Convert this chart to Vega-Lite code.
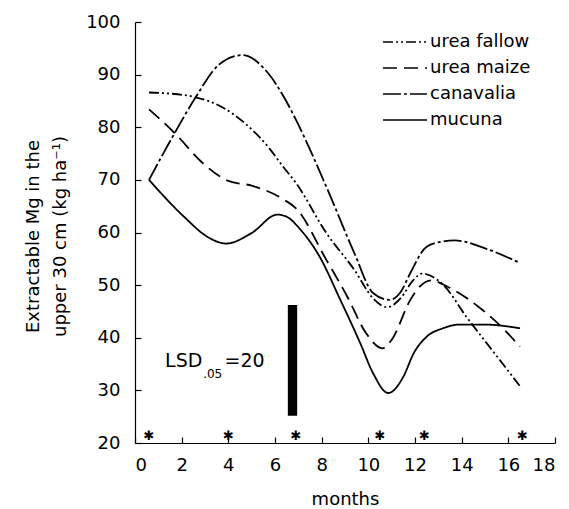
{
  "$schema": "https://vega.github.io/schema/vega-lite/v6.json",
  "width": 420,
  "height": 421,
  "autosize": "none",
  "padding": {"left": 135, "top": 22, "right": 14, "bottom": 66},
  "background": "white",
  "config": {
    "view": {"stroke": null},
    "font": "DejaVu Sans",
    "axis": {"grid": false, "domainColor": "black", "tickColor": "black", "labelColor": "black", "titleColor": "black", "labelFont": "DejaVu Sans", "titleFont": "DejaVu Sans", "titleFontWeight": "normal", "labelFontSize": 18, "titleFontSize": 18, "domainWidth": 1.2, "tickWidth": 1.2}
  },
  "datasets": {
    "curves": [
      {"series": "urea fallow", "month": 0.6, "mg": 86.6},
      {"series": "urea fallow", "month": 1.5, "mg": 86.4},
      {"series": "urea fallow", "month": 2.6, "mg": 85.7},
      {"series": "urea fallow", "month": 3.7, "mg": 83.9},
      {"series": "urea fallow", "month": 4.7, "mg": 80.8},
      {"series": "urea fallow", "month": 5.7, "mg": 76.3},
      {"series": "urea fallow", "month": 6.4, "mg": 72.2},
      {"series": "urea fallow", "month": 6.9, "mg": 69.4},
      {"series": "urea fallow", "month": 8.2, "mg": 59.9},
      {"series": "urea fallow", "month": 9.4, "mg": 52.9},
      {"series": "urea fallow", "month": 10.2, "mg": 47.5},
      {"series": "urea fallow", "month": 10.8, "mg": 45.8},
      {"series": "urea fallow", "month": 11.4, "mg": 47.6},
      {"series": "urea fallow", "month": 11.9, "mg": 50.8},
      {"series": "urea fallow", "month": 12.3, "mg": 52.2},
      {"series": "urea fallow", "month": 13.2, "mg": 50.1},
      {"series": "urea fallow", "month": 14.2, "mg": 44.0},
      {"series": "urea fallow", "month": 15.4, "mg": 37.1},
      {"series": "urea fallow", "month": 16.5, "mg": 30.8},
      {"series": "urea maize", "month": 0.6, "mg": 83.4},
      {"series": "urea maize", "month": 1.7, "mg": 78.9},
      {"series": "urea maize", "month": 2.9, "mg": 73.2},
      {"series": "urea maize", "month": 4.0, "mg": 69.8},
      {"series": "urea maize", "month": 5.0, "mg": 68.9},
      {"series": "urea maize", "month": 6.4, "mg": 66.2},
      {"series": "urea maize", "month": 6.9, "mg": 64.6},
      {"series": "urea maize", "month": 8.2, "mg": 54.8},
      {"series": "urea maize", "month": 9.1, "mg": 47.8},
      {"series": "urea maize", "month": 9.9, "mg": 40.9},
      {"series": "urea maize", "month": 10.6, "mg": 38.0},
      {"series": "urea maize", "month": 11.0, "mg": 39.6},
      {"series": "urea maize", "month": 11.8, "mg": 47.2},
      {"series": "urea maize", "month": 12.2, "mg": 49.7},
      {"series": "urea maize", "month": 12.7, "mg": 50.9},
      {"series": "urea maize", "month": 13.4, "mg": 49.7},
      {"series": "urea maize", "month": 14.8, "mg": 45.6},
      {"series": "urea maize", "month": 15.7, "mg": 42.1},
      {"series": "urea maize", "month": 16.5, "mg": 38.3},
      {"series": "canavalia", "month": 0.6, "mg": 70.0},
      {"series": "canavalia", "month": 1.7, "mg": 78.9},
      {"series": "canavalia", "month": 2.6, "mg": 85.7},
      {"series": "canavalia", "month": 3.6, "mg": 91.9},
      {"series": "canavalia", "month": 4.6, "mg": 93.7},
      {"series": "canavalia", "month": 5.7, "mg": 90.3},
      {"series": "canavalia", "month": 6.4, "mg": 85.6},
      {"series": "canavalia", "month": 6.9, "mg": 81.4},
      {"series": "canavalia", "month": 8.2, "mg": 68.7},
      {"series": "canavalia", "month": 9.4, "mg": 56.1},
      {"series": "canavalia", "month": 10.2, "mg": 48.5},
      {"series": "canavalia", "month": 10.9, "mg": 47.2},
      {"series": "canavalia", "month": 11.4, "mg": 48.8},
      {"series": "canavalia", "month": 11.8, "mg": 52.3},
      {"series": "canavalia", "month": 12.5, "mg": 57.3},
      {"series": "canavalia", "month": 13.2, "mg": 58.3},
      {"series": "canavalia", "month": 13.7, "mg": 58.5},
      {"series": "canavalia", "month": 15.0, "mg": 57.0},
      {"series": "canavalia", "month": 16.5, "mg": 54.2},
      {"series": "mucuna", "month": 0.6, "mg": 70.0},
      {"series": "mucuna", "month": 2.1, "mg": 63.0},
      {"series": "mucuna", "month": 3.1, "mg": 59.2},
      {"series": "mucuna", "month": 3.9, "mg": 57.9},
      {"series": "mucuna", "month": 5.0, "mg": 59.9},
      {"series": "mucuna", "month": 6.1, "mg": 63.4},
      {"series": "mucuna", "month": 6.5, "mg": 63.0},
      {"series": "mucuna", "month": 7.1, "mg": 60.5},
      {"series": "mucuna", "month": 7.9, "mg": 55.5},
      {"series": "mucuna", "month": 8.8, "mg": 47.2},
      {"series": "mucuna", "month": 9.65, "mg": 39.0},
      {"series": "mucuna", "month": 10.2, "mg": 33.3},
      {"series": "mucuna", "month": 10.85, "mg": 29.5},
      {"series": "mucuna", "month": 11.5, "mg": 32.6},
      {"series": "mucuna", "month": 11.95, "mg": 37.1},
      {"series": "mucuna", "month": 12.5, "mg": 40.2},
      {"series": "mucuna", "month": 13.2, "mg": 41.8},
      {"series": "mucuna", "month": 13.9, "mg": 42.5},
      {"series": "mucuna", "month": 15.0, "mg": 42.5},
      {"series": "mucuna", "month": 16.5, "mg": 41.8}
    ],
    "stars": [
      {"month": 0.6}, {"month": 4.0}, {"month": 6.9}, {"month": 10.5}, {"month": 12.4}, {"month": 16.6}
    ],
    "one": [{}]
  },
  "layer": [
    {
      "data": {"name": "curves"},
      "mark": {"type": "line", "interpolate": "monotone", "strokeWidth": 1.8, "color": "black", "clip": true},
      "encoding": {
        "x": {"field": "month", "type": "quantitative", "scale": {"domain": [0, 18], "nice": false},
          "axis": {"values": [0, 2, 4, 6, 8, 10, 12, 14, 16, 18], "tickSize": -6, "labelPadding": 19, "title": "months", "titleY": 61, "titleBaseline": "alphabetic"}},
        "y": {"field": "mg", "type": "quantitative", "scale": {"domain": [20, 100], "nice": false, "zero": false},
          "axis": {"values": [20, 30, 40, 50, 60, 70, 80, 90, 100], "tickSize": -6, "labelPadding": 21,
            "title": ["Extractable Mg in the", "upper 30 cm (kg ha\u207b\u00b9)"], "titleLineHeight": 27, "titleX": -102, "titleY": 214, "titleAlign": "center", "titleBaseline": "middle"}},
        "strokeDash": {"field": "series", "type": "nominal",
          "scale": {"domain": ["urea fallow", "urea maize", "canavalia", "mucuna"], "range": [[10, 3, 2, 3, 2, 3], [14, 7], [18, 3, 3, 3], [1, 0]]},
          "legend": {"title": null, "orient": "none", "legendX": 261, "legendY": 11, "symbolType": "M-4,0H4", "symbolSize": 121, "symbolStrokeColor": "black", "symbolStrokeWidth": 1.6, "labelFontSize": 18, "labelFont": "DejaVu Sans", "labelColor": "black", "labelOffset": 16, "rowPadding": 8, "padding": 0}}
      }
    },
    {
      "data": {"name": "one"},
      "mark": {"type": "rect", "color": "black"},
      "encoding": {
        "x": {"datum": 6.55},
        "x2": {"datum": 6.95},
        "y": {"datum": 25.2},
        "y2": {"datum": 46.2}
      }
    },
    {
      "data": {"name": "one"},
      "mark": {"type": "text", "align": "left", "baseline": "alphabetic", "fontSize": 19, "color": "black"},
      "encoding": {"x": {"datum": 1.29}, "y": {"datum": 34.5}, "text": {"value": "LSD"}}
    },
    {
      "data": {"name": "one"},
      "mark": {"type": "text", "align": "left", "baseline": "alphabetic", "fontSize": 12, "color": "black"},
      "encoding": {"x": {"datum": 2.92}, "y": {"datum": 32.3}, "text": {"value": ".05"}}
    },
    {
      "data": {"name": "one"},
      "mark": {"type": "text", "align": "left", "baseline": "alphabetic", "fontSize": 19, "color": "black"},
      "encoding": {"x": {"datum": 3.84}, "y": {"datum": 34.5}, "text": {"value": "=20"}}
    },
    {
      "data": {"name": "stars"},
      "mark": {"type": "text", "fontSize": 13, "baseline": "middle", "align": "center", "color": "black", "fontWeight": "bold"},
      "encoding": {"x": {"field": "month", "type": "quantitative"}, "y": {"datum": 21.3}, "text": {"value": "\u2731"}}
    }
  ]
}
